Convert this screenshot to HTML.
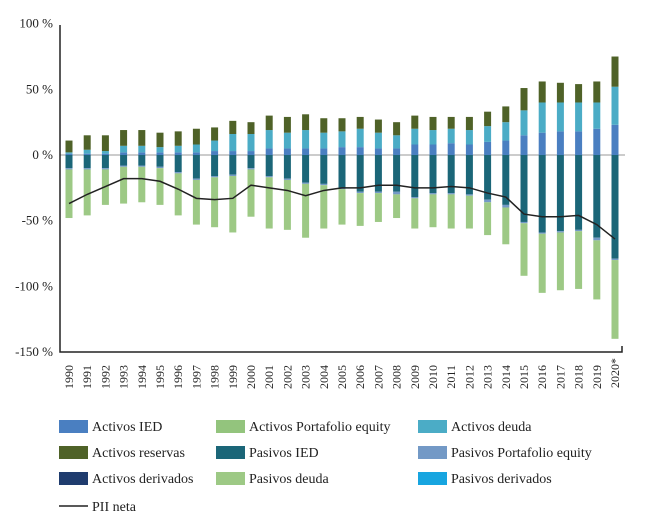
<!DOCTYPE html>
<html><head><meta charset="utf-8"><style>
body{margin:0;background:#fff;}
svg{display:block;font-family:"Liberation Serif",serif;}
</style></head><body>
<svg id="c" width="650" height="518"></svg>
<script>
const years=[1990,1991,1992,1993,1994,1995,1996,1997,1998,1999,2000,2001,2002,2003,2004,2005,2006,2007,2008,2009,2010,2011,2012,2013,2014,2015,2016,2017,2018,2019,2020];
const actIED=[1,1,1,2,2,2,2,2,3,3,3,5,5,5,5,6,6,5,5,8,8,9,8,10,11,15,17,18,18,20,23];
const actPortEq=[0,0,0,0,0,0,0,0,0,0,0,0,0,0,0,0,0,0,0,0,0,0,0,0,0,0,0,0,0,0,0];
const actDeuda=[1,3,2,5,5,4,5,6,8,13,13,14,12,14,12,12,14,12,10,12,11,11,11,12,14,19,23,22,22,20,29];
const actRes=[9,11,12,12,12,11,11,12,10,10,9,11,12,12,11,10,9,10,10,10,10,9,10,11,12,17,16,15,14,16,23];
const actDeriv=[0,0,0,0,0,0,0,0,0,0,0,0,0,0,0,0,0,0,0,0,0,0,0,0,0,0,0,0,0,0,0];
const pasIED=[-10,-10,-10,-8,-8,-9,-13,-18,-16,-15,-10,-16,-18,-21,-22,-25,-28,-28,-28,-32,-29,-29,-30,-34,-38,-51,-59,-58,-57,-63,-79];
const pasPortEq=[-1,-1,-1,-1,-1,-1,-1,-1,-1,-1,-1,-1,-1,-1,-1,-1,-1,-1,-2,-1,-1,-1,-1,-2,-2,-1,-1,-1,-1,-2,-1];
const pasDeuda=[-37,-35,-27,-28,-27,-28,-32,-34,-38,-43,-36,-39,-38,-41,-33,-27,-25,-22,-18,-23,-25,-26,-25,-25,-28,-40,-45,-44,-44,-45,-60];
const pasDeriv=[0,0,0,0,0,0,0,0,0,0,0,0,0,0,0,0,0,0,0,0,0,0,0,0,0,0,0,0,0,0,0];
const piiNeta=[-37,-30,-24,-18,-18,-20,-26,-33,-34,-33,-23,-25,-27,-31,-27,-25,-25,-23,-23,-25,-25,-24,-25,-29,-32,-45,-47,-47,-46,-53,-64];
const yTicks=[100,50,0,-50,-100,-150];

const NS="http://www.w3.org/2000/svg";
const svg=document.getElementById('c');
function mk(t,a,p){const e=document.createElementNS(NS,t);for(const k in a)e.setAttribute(k,a[k]);(p||svg).appendChild(e);return e;}
const y=v=>155-v*1.313;
const x=i=>69+i*18.2;
const bw=7;

yTicks.forEach(t=>{
  const e=mk('text',{x:53,y:y(t)+4,'text-anchor':'end','font-size':13,fill:'#222'});
  e.textContent=t+' %';
  
  
});
const zl=mk('line',{x1:60,x2:625,y1:y(0),y2:y(0),stroke:'#999','stroke-width':1});



const posSeries=[[actIED,'#4a7fc1','activos-ied'],[actPortEq,'#93c47d','activos-portafolio-equity'],[actDeuda,'#4bacc6','activos-deuda'],[actRes,'#4f6228','activos-reservas'],[actDeriv,'#1f3c6e','activos-derivados']];
const negSeries=[[pasIED,'#1b6678','pasivos-ied'],[pasPortEq,'#7399c6','pasivos-portafolio-equity'],[pasDeriv,'#17a5e0','pasivos-derivados'],[pasDeuda,'#9dc985','pasivos-deuda']];
years.forEach((yr,i)=>{
  let acc=0;
  posSeries.forEach(s=>{const v=s[0][i];if(v<=0)return;
    const r=mk('rect',{x:x(i)-bw/2,y:y(acc+v),width:bw,height:y(acc)-y(acc+v),fill:s[1]});
    
    
    acc+=v;});
  acc=0;
  negSeries.forEach(s=>{const v=s[0][i];if(v>=0)return;
    const r=mk('rect',{x:x(i)-bw/2,y:y(acc),width:bw,height:y(acc+v)-y(acc),fill:s[1]});
    
    
    acc+=v;});
  const t=mk('text',{transform:`translate(${x(i)+4},${yr==2020?358:365}) rotate(-90)`,'text-anchor':'end','font-size':12,fill:'#222'});
  t.textContent=yr+(yr==2020?'*':'');
  
  
});
const pl=mk('polyline',{points:piiNeta.map((v,i)=>x(i)+','+y(v)).join(' '),fill:'none',stroke:'#222','stroke-width':1.5});


const ax=mk('path',{d:'M60,25 V352 H622 V346',fill:'none',stroke:'#222','stroke-width':1.5});



const leg=[['Activos IED','#4a7fc1',59,426],['Activos Portafolio equity','#93c47d',216,426],['Activos deuda','#4bacc6',418,426],
['Activos reservas','#4f6228',59,452],['Pasivos IED','#1b6678',216,452],['Pasivos Portafolio equity','#7399c6',418,452],
['Activos derivados','#1f3c6e',59,478],['Pasivos deuda','#9dc985',216,478],['Pasivos derivados','#17a5e0',418,478]];
leg.forEach(l=>{
  const g=mk('g',{});
  
  
  mk('rect',{x:l[2],y:l[3]-6,width:29,height:13,fill:l[1]},g);
  const t=mk('text',{x:l[2]+33,y:l[3]+5,'font-size':14,fill:'#222'},g);
  t.textContent=l[0];
});
const lg=mk('g',{});


mk('line',{x1:59,x2:88,y1:506,y2:506,stroke:'#222','stroke-width':1.5},lg);
const lt=mk('text',{x:92,y:511,'font-size':14,fill:'#222'},lg);
lt.textContent='PII neta';
</script>
</body></html>
